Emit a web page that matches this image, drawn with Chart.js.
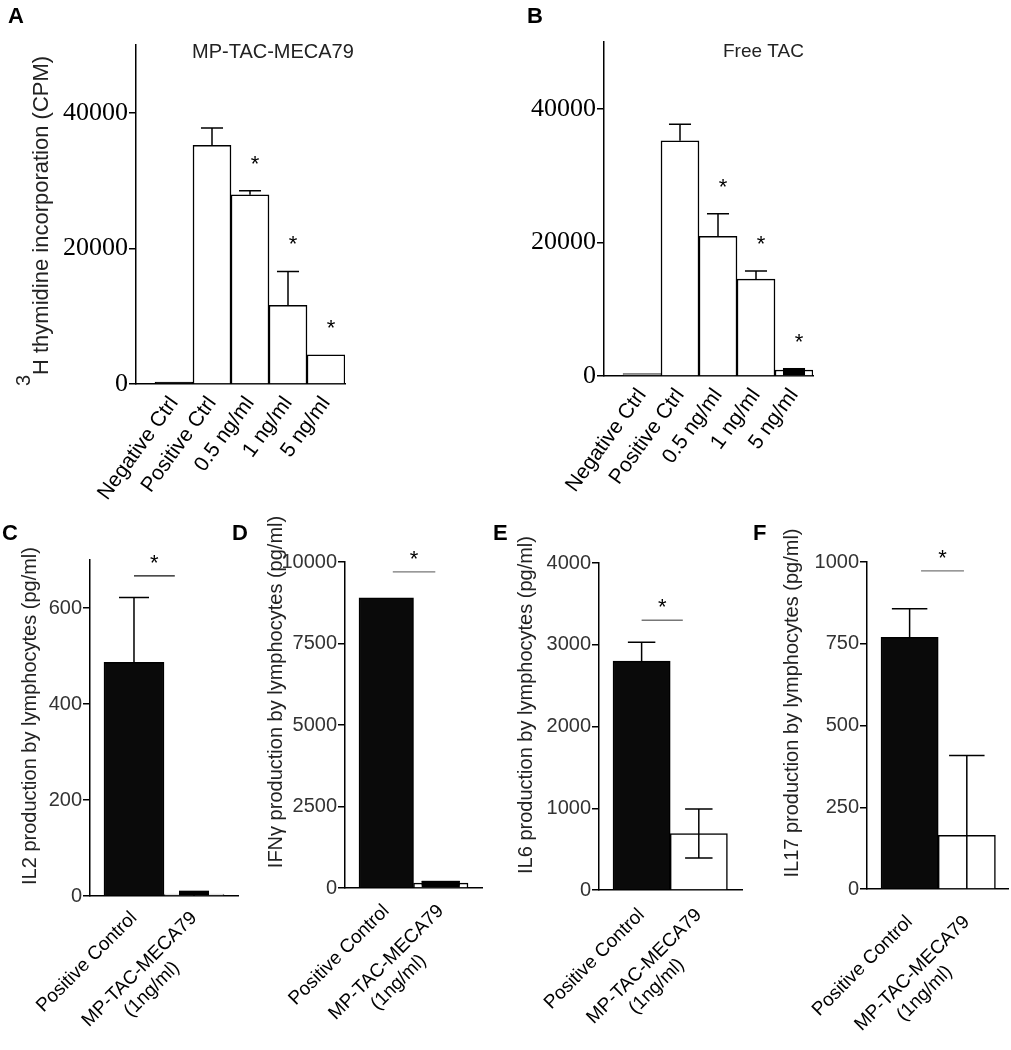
<!DOCTYPE html>
<html>
<head>
<meta charset="utf-8">
<script src="https://cdn.jsdelivr.net/npm/chart.js"></script>
<style>
  body { margin: 0; background: #fff; }
  #fig { position: relative; width: 1011px; height: 1050px; overflow: hidden; }
  #fig canvas { position: absolute; }
</style>
</head>
<body>
<div id="fig"></div>
<script>
  // ---- data ----
  const prolifLabels = ['Negative Ctrl', 'Positive Ctrl', '0.5 ng/ml', '1 ng/ml', '5 ng/ml'];
  const prolifTicks = [0, 20000, 40000];

  const mecaMean = [300, 35200, 27900, 11600, 4300];
  const mecaErr  = [0, 2550, 600, 5000, 0];
  const mecaSig  = [false, false, true, true, true];

  const freeMean = [400, 35200, 20900, 14500, 900];
  const freeErr  = [0, 2500, 3400, 1200, 150];
  const freeSig  = [false, false, true, true, true];

  const cytoLabels = ['Positive Control', ['MP-TAC-MECA79', '(1ng/ml)']];

  const il2Mean  = [487, 4];
  const il2Err   = [135, 5];
  const il2Ticks = [0, 200, 400, 600];

  const ifnMean  = [8900, 150];
  const ifnErr   = [0, 40];
  const ifnTicks = [0, 2500, 5000, 7500, 10000];

  const il6Mean  = [2800, 690];
  const il6Err   = [230, 300];
  const il6Ticks = [0, 1000, 2000, 3000, 4000];

  const il17Mean  = [770, 164];
  const il17Err   = [87, 244];
  const il17Ticks = [0, 250, 500, 750, 1000];

  const fig = document.getElementById('fig');

  // error bars, stars, brackets, panel letters and titles
  const annotPlugin = {
    id: 'annot',
    afterDatasetsDraw(chart, args, o) {
      const ctx = chart.ctx;
      const ds = chart.data.datasets[0];
      const meta = chart.getDatasetMeta(0);
      const ys = chart.scales.y, xs = chart.scales.x;
      ctx.save();
      ctx.strokeStyle = '#000';
      meta.data.forEach((bar, i) => {
        const up = ds.errUp[i] || 0;
        const v = ds.data[i].y;
        const cap = bar.width * o.capFrac / 2;
        const yTop = ys.getPixelForValue(v + up);
        if (up) {
          ctx.lineWidth = 1.5;
          ctx.beginPath();
          ctx.moveTo(bar.x, bar.y); ctx.lineTo(bar.x, yTop);
          ctx.moveTo(bar.x - cap, yTop); ctx.lineTo(bar.x + cap, yTop);
          // lower whisker only shows on the open bars
          if (o.twoSided && ds.backgroundColor[i] === '#fff') {
            const low = Math.max(v - up, 0);
            const yLow = ys.getPixelForValue(low);
            ctx.moveTo(bar.x, bar.y); ctx.lineTo(bar.x, yLow);
            if (low > 0) { ctx.moveTo(bar.x - cap, yLow); ctx.lineTo(bar.x + cap, yLow); }
          }
          ctx.stroke();
          // near-zero bars: cap and bar top merge into one small block
          if (bar.base - bar.y < 10) {
            ctx.fillStyle = '#000';
            ctx.fillRect(bar.x - cap, yTop - 1, cap * 2, bar.base - yTop + 1);
          }
        }
        if (ds.sig && ds.sig[i]) {
          ctx.fillStyle = '#000';
          ctx.font = '22px Arial, "Liberation Sans"';
          ctx.textAlign = 'center';
          ctx.textBaseline = 'alphabetic';
          ctx.fillText('*', bar.x + 5, yTop - 33 + 13);
        }
      });
      if (o.bracket) {
        const b = o.bracket;
        const y = ys.getPixelForValue(b.y);
        const x0 = xs.getPixelForValue(b.x0), x1 = xs.getPixelForValue(b.x1);
        ctx.strokeStyle = b.color;
        ctx.lineWidth = 1.3;
        ctx.beginPath(); ctx.moveTo(x0, y); ctx.lineTo(x1, y); ctx.stroke();
        ctx.fillStyle = '#000';
        ctx.font = '22px Arial, "Liberation Sans"';
        ctx.textAlign = 'center';
        ctx.fillText('*', (x0 + x1) / 2, y - 19 + 13);
      }
      ctx.restore();
    },
    afterDraw(chart, args, o) {
      const ctx = chart.ctx;
      const [bx, by] = o.box;
      ctx.save();
      ctx.fillStyle = '#000';
      ctx.textBaseline = 'alphabetic';
      ctx.font = 'bold 22px Arial, "Liberation Sans"';
      ctx.textAlign = 'left';
      ctx.fillText(o.letter.text, o.letter.x - bx, o.letter.y - by);
      if (o.title) {
        ctx.fillStyle = '#222';
        ctx.font = o.title.font;
        ctx.fillText(o.title.text, o.title.x - bx, o.title.y - by);
      }
      if (o.yTitle) {
        const t = o.yTitle;
        ctx.translate(t.x - bx, t.y - by);
        ctx.rotate(-Math.PI / 2);
        ctx.fillStyle = t.color;
        ctx.font = t.font;
        const wMain = ctx.measureText(t.text).width;
        let wSup = 0;
        if (t.sup) {
          ctx.font = t.supFont;
          wSup = ctx.measureText(t.sup).width;
        }
        const start = -(wMain + wSup) / 2;
        if (t.sup) {
          ctx.fillText(t.sup, start, -t.supRaise);
        }
        ctx.font = t.font;
        ctx.fillText(t.text, start + wSup, 0);
      }
      ctx.restore();
    }
  };

  function makePanel(p) {
    const [bx, by, bw, bh] = p.box;
    const [left, top, right, bottom] = p.area;
    const c = document.createElement('canvas');
    c.width = bw; c.height = bh;
    c.style.left = bx + 'px'; c.style.top = by + 'px';
    c.style.width = bw + 'px'; c.style.height = bh + 'px';
    fig.appendChild(c);

    return new Chart(c, {
      type: 'bar',
      plugins: [annotPlugin],
      data: {
        datasets: [{
          data: p.values.map((v, i) => ({ x: i, y: v })),
          errUp: p.err,
          sig: p.sig,
          backgroundColor: p.fill,
          borderColor: p.stroke,
          borderWidth: 1.5,
          barPercentage: 1,
          categoryPercentage: 1,
        }]
      },
      options: {
        responsive: false,
        animation: false,
        devicePixelRatio: 1,
        layout: { padding: { left: 0, top: top - by, right: bx + bw - right, bottom: 0 } },
        plugins: {
          legend: { display: false },
          tooltip: { enabled: false },
          annot: Object.assign({ box: p.box }, p.annot),
        },
        scales: {
          x: {
            type: 'linear',
            offset: false,
            min: p.xMin,
            max: p.xMax,
            afterFit: function (s) { s.height = by + bh - bottom; },
            afterBuildTicks: function (s) { s.ticks = p.labels.map((_, i) => ({ value: i })); },
            grid: { display: false, drawTicks: false },
            border: { display: true, color: '#000', width: 1.5 },
            ticks: {
              autoSkip: false,
              minRotation: p.rot,
              maxRotation: p.rot,
              padding: p.xPad,
              color: '#000',
              font: p.xFont,
              callback: function (v) {
                const l = p.labels[v];
                return Array.isArray(l) ? [l[0], l[1] + '         '] : l;
              }
            }
          },
          y: {
            min: 0,
            max: p.yMax,
            afterFit: function (s) { s.width = left - bx; },
            afterBuildTicks: function (s) { s.ticks = p.yTicks.map(v => ({ value: v })); },
            grid: { drawOnChartArea: false, drawTicks: true, tickLength: 7, color: '#000', lineWidth: 1.5 },
            border: { display: true, color: '#000', width: 1.5 },
            ticks: { padding: 1, color: p.yColor, font: p.yFont, callback: v => String(v) }
          }
        }
      }
    });
  }

  const serifTick = { family: '"Liberation Serif", "Times New Roman", serif', size: 26 };
  const sansTick = { family: 'Arial, "Liberation Sans", sans-serif', size: 20 };
  const prolifFont = { family: 'Arial, "Liberation Sans", sans-serif', size: 21 };
  const cytoFont = { family: 'Arial, "Liberation Sans", sans-serif', size: 19 };
  const yTitleFont = '20px Arial, "Liberation Sans", sans-serif';

  // A
  makePanel({
    box: [0, 0, 375, 520], area: [136, 45, 345, 384],
    labels: prolifLabels, values: mecaMean, err: mecaErr, sig: mecaSig,
    fill: ['#222', '#fff', '#fff', '#fff', '#fff'], stroke: '#000',
    xMin: -1, xMax: 4.5, rot: 54, xPad: 8, xFont: prolifFont,
    yMax: 50000, yTicks: prolifTicks, yFont: serifTick, yColor: '#000',
    annot: {
      capFrac: 0.58, twoSided: false,
      letter: { text: 'A', x: 8, y: 23 },
      title: { text: 'MP-TAC-MECA79', x: 192, y: 58, font: '20px Arial, "Liberation Sans", sans-serif' },
      yTitle: { text: 'H thymidine incorporation (CPM)', sup: '3', x: 48, y: 221,
                font: '22px Arial, "Liberation Sans", sans-serif',
                supFont: '20px Arial, "Liberation Sans", sans-serif', supRaise: 18, color: '#222' }
    }
  });

  // B
  makePanel({
    box: [375, 0, 636, 520], area: [604, 42, 813, 376],
    labels: prolifLabels, values: freeMean, err: freeErr, sig: freeSig,
    fill: ['#999', '#fff', '#fff', '#fff', '#fff'], stroke: ['#888', '#000', '#000', '#000', '#000'],
    xMin: -1, xMax: 4.5, rot: 54, xPad: 8, xFont: prolifFont,
    yMax: 50000, yTicks: prolifTicks, yFont: serifTick, yColor: '#000',
    annot: {
      capFrac: 0.58, twoSided: false,
      letter: { text: 'B', x: 527, y: 23 },
      title: { text: 'Free TAC', x: 723, y: 57, font: '19px Arial, "Liberation Sans", sans-serif' }
    }
  });

  // C
  makePanel({
    box: [0, 505, 250, 545], area: [90, 560, 238, 896],
    labels: cytoLabels, values: il2Mean, err: il2Err,
    fill: ['#0a0a0a', '#fff'], stroke: ['#000', '#888'],
    xMin: -0.733, xMax: 1.733, rot: 45, xPad: 11, xFont: cytoFont,
    yMax: 700, yTicks: il2Ticks, yFont: sansTick, yColor: '#333',
    annot: {
      capFrac: 0.5, twoSided: true,
      letter: { text: 'C', x: 2, y: 540 },
      bracket: { x0: 0, x1: 0.68, y: 667, color: '#111' },
      yTitle: { text: 'IL2 production by lymphocytes (pg/ml)', x: 36, y: 716, font: yTitleFont, color: '#222' }
    }
  });

  // D
  makePanel({
    box: [228, 505, 267, 545], area: [345, 562, 482, 888],
    labels: cytoLabels, values: ifnMean, err: ifnErr,
    fill: ['#0a0a0a', '#fff'], stroke: ['#000', '#000'],
    xMin: -0.757, xMax: 1.757, rot: 45, xPad: 12, xFont: cytoFont,
    yMax: 10000, yTicks: ifnTicks, yFont: sansTick, yColor: '#333',
    annot: {
      capFrac: 0.7, twoSided: true,
      letter: { text: 'D', x: 232, y: 540 },
      bracket: { x0: 0.12, x1: 0.9, y: 9700, color: '#777' },
      yTitle: { text: 'IFNγ production by lymphocytes (pg/ml)', x: 282, y: 692, font: yTitleFont, color: '#222' }
    }
  });

  // E
  makePanel({
    box: [488, 505, 262, 545], area: [599, 563, 742, 890],
    labels: cytoLabels, values: il6Mean, err: il6Err,
    fill: ['#0a0a0a', '#fff'], stroke: ['#000', '#000'],
    xMin: -0.745, xMax: 1.755, rot: 45, xPad: 14, xFont: cytoFont,
    yMax: 4000, yTicks: il6Ticks, yFont: sansTick, yColor: '#333',
    annot: {
      capFrac: 0.48, twoSided: true,
      letter: { text: 'E', x: 493, y: 540 },
      bracket: { x0: 0, x1: 0.72, y: 3300, color: '#777' },
      yTitle: { text: 'IL6 production by lymphocytes (pg/ml)', x: 532, y: 705, font: yTitleFont, color: '#222' }
    }
  });

  // F (canvas runs past the page edge so the rotated labels keep the plot width)
  makePanel({
    box: [750, 505, 300, 545], area: [867, 562, 1008, 889],
    labels: cytoLabels, values: il17Mean, err: il17Err,
    fill: ['#0a0a0a', '#fff'], stroke: ['#000', '#000'],
    xMin: -0.745, xMax: 1.72, rot: 45, xPad: 22, xFont: cytoFont,
    yMax: 1000, yTicks: il17Ticks, yFont: sansTick, yColor: '#333',
    annot: {
      capFrac: 0.62, twoSided: true,
      letter: { text: 'F', x: 753, y: 540 },
      bracket: { x0: 0.2, x1: 0.95, y: 973, color: '#777' },
      yTitle: { text: 'IL17 production by lymphocytes (pg/ml)', x: 798, y: 703, font: yTitleFont, color: '#222' }
    }
  });
</script>
</body>
</html>
